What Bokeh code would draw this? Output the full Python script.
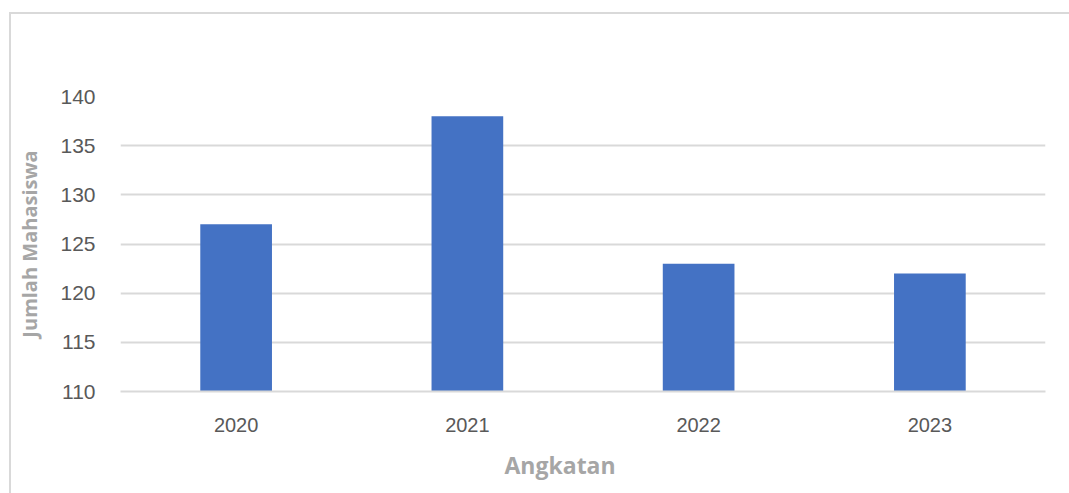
from bokeh.plotting import figure
from bokeh.models import Range1d, FactorRange, ColumnDataSource, SingleIntervalTicker, Title
from bokeh.embed import file_html
from bokeh.resources import INLINE

years = ["2020", "2021", "2022", "2023"]
students = [127, 138, 123, 122]
y_min = 110
y_max = 140
y_step = 5
x_title = "Angkatan"
y_title = "Jumlah Mahasiswa"

src = ColumnDataSource(dict(x=years, top=students, bottom=[y_min] * len(years)))

p = figure(x_range=FactorRange(*years), y_range=Range1d(y_min, y_max),
           width=1059, height=480, frame_width=925, frame_height=295,
           min_border_left=109, min_border_top=82, min_border_right=25, min_border_bottom=103,
           output_backend="svg", toolbar_location=None, tools="")
p.margin = (12, 0, 0, 9)
p.styles = {"border-top": "2px solid #d9d9d9", "border-left": "2px solid #d9d9d9"}

p.vbar(x="x", top="top", bottom="bottom", width=0.31, source=src,
       fill_color="#4472C4", line_color=None)

p.outline_line_color = None
p.background_fill_color = "white"
p.border_fill_color = "white"

p.xgrid.grid_line_color = None
p.ygrid.grid_line_color = "#d9d9d9"
p.ygrid.grid_line_width = 2
p.yaxis.ticker = SingleIntervalTicker(interval=y_step)

font = "Liberation Sans"
title_font = "Open Sans"
for ax in (p.xaxis[0], p.yaxis[0]):
    ax.major_tick_line_color = None
    ax.minor_tick_line_color = None
    ax.major_tick_out = 0
    ax.major_tick_in = 0
    ax.major_label_text_font = font
    ax.major_label_text_color = "#595959"
    ax.axis_label_text_font = title_font
    ax.axis_label_text_font_style = "bold"
    ax.axis_label_text_color = "#a6a6a6"

p.yaxis.major_label_text_font_size = "21px"
p.xaxis.major_label_text_font_size = "20px"
p.yaxis.axis_line_color = None
p.xaxis.axis_line_color = "#d9d9d9"
p.xaxis.axis_line_width = 2
p.yaxis.major_label_standoff = 21
p.xaxis.major_label_standoff = 26

p.yaxis.axis_label = y_title
p.yaxis.axis_label_text_font_size = "20px"
p.yaxis.axis_label_standoff = 14

# x-axis title, slightly left of the frame centre as in the original
p.add_layout(Title(text=x_title, align="left", offset=384, standoff=24,
                   text_font=title_font, text_font_style="bold", text_font_size="23px",
                   text_color="#a6a6a6"), "below")

open("out.html", "w").write(file_html(p, INLINE))
